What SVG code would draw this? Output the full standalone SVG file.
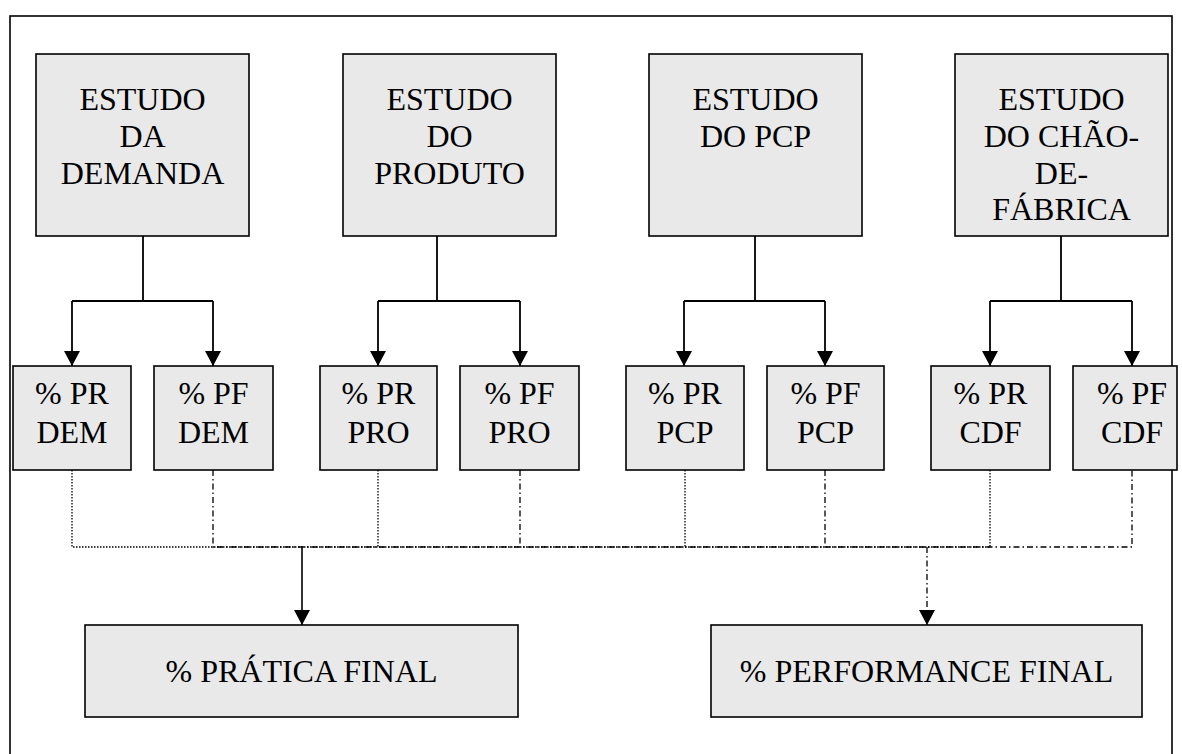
<svg xmlns="http://www.w3.org/2000/svg" width="1182" height="754" viewBox="0 0 1182 754">
  <style>
    .box { fill: #e9e9e9; stroke: #000; stroke-width: 1.6; }
    .lbl { font-family: 'Liberation Serif', 'Times New Roman', 'DejaVu Serif', serif; font-size: 32px; fill: #000; text-anchor: middle; }
    .tree { fill: none; stroke: #000; stroke-width: 1.8; }
    .dot { fill: none; stroke: #000; stroke-width: 1.3; stroke-dasharray: 1.5 1.5; }
    .dashdot { fill: none; stroke: #000; stroke-width: 1.3; stroke-dasharray: 6 3 1.5 3; }
    .solid { fill: none; stroke: #000; stroke-width: 1.6; }
  </style>
  <defs>
    <marker id="arrow" markerUnits="userSpaceOnUse" markerWidth="16" markerHeight="17" refX="15" refY="8" orient="auto">
      <path d="M0,0 L15,8 L0,16 Z" fill="#000"/>
    </marker>
  </defs>

  <rect x="0" y="0" width="1182" height="754" fill="#fff"/>
  <!-- outer frame -->
  <rect x="10" y="16" width="1162" height="760" fill="none" stroke="#000" stroke-width="1.6"/>

  <!-- connectors -->
  <g id="connectors">
    <!-- study boxes to indicator boxes -->
    <path class="tree" d="M143,236 V301 M72,301 H213" />
    <path class="tree" d="M72,301 V366" marker-end="url(#arrow)"/>
    <path class="tree" d="M213,301 V366" marker-end="url(#arrow)"/>
    <path class="tree" d="M437,236 V301 M378,301 H520" />
    <path class="tree" d="M378,301 V366" marker-end="url(#arrow)"/>
    <path class="tree" d="M520,301 V366" marker-end="url(#arrow)"/>
    <path class="tree" d="M755,236 V301 M684,301 H825" />
    <path class="tree" d="M684,301 V366" marker-end="url(#arrow)"/>
    <path class="tree" d="M825,301 V366" marker-end="url(#arrow)"/>
    <path class="tree" d="M1061,236 V301 M990,301 H1132" />
    <path class="tree" d="M990,301 V366" marker-end="url(#arrow)"/>
    <path class="tree" d="M1132,301 V366" marker-end="url(#arrow)"/>

    <!-- practice (PR) collector: dotted -->
    <path class="dot" d="M72,470 V547 H990 M378,470 V547 M685,470 V547 M990,470 V547"/>
    <!-- performance (PF) collector: dash-dot -->
    <path class="dashdot" d="M213,470 V547 H1132 V470 M520,470 V547 M825,470 V547"/>

    <!-- to final boxes -->
    <path class="solid" d="M302,547 V625" marker-end="url(#arrow)"/>
    <path class="dashdot" d="M927,547 V625" marker-end="url(#arrow)"/>
  </g>

  <!-- study boxes -->
  <g id="estudo-demanda">
    <rect class="box" x="36" y="54" width="213" height="182"/>
    <text class="lbl" x="142.5" y="110">ESTUDO</text>
    <text class="lbl" x="142.5" y="147">DA</text>
    <text class="lbl" x="142.5" y="184">DEMANDA</text>
  </g>
  <g id="estudo-produto">
    <rect class="box" x="343" y="54" width="213" height="182"/>
    <text class="lbl" x="449.5" y="110">ESTUDO</text>
    <text class="lbl" x="449.5" y="147">DO</text>
    <text class="lbl" x="449.5" y="184">PRODUTO</text>
  </g>
  <g id="estudo-pcp">
    <rect class="box" x="649" y="54" width="213" height="182"/>
    <text class="lbl" x="755.5" y="110">ESTUDO</text>
    <text class="lbl" x="755.5" y="147">DO PCP</text>
  </g>
  <g id="estudo-cdf">
    <rect class="box" x="955" y="54" width="213" height="182"/>
    <text class="lbl" x="1061.5" y="110">ESTUDO</text>
    <text class="lbl" x="1061.5" y="147">DO CHÃO-</text>
    <text class="lbl" x="1061.5" y="184">DE-</text>
    <text class="lbl" x="1061.5" y="220">FÁBRICA</text>
  </g>

  <!-- indicator boxes -->
  <g id="pr-dem">
    <rect class="box" x="13" y="366" width="118" height="104"/>
    <text class="lbl" x="72" y="404">% PR</text>
    <text class="lbl" x="72" y="443">DEM</text>
  </g>
  <g id="pf-dem">
    <rect class="box" x="154" y="366" width="119" height="104"/>
    <text class="lbl" x="213.5" y="404">% PF</text>
    <text class="lbl" x="213.5" y="443">DEM</text>
  </g>
  <g id="pr-pro">
    <rect class="box" x="320" y="366" width="117" height="104"/>
    <text class="lbl" x="378.5" y="404">% PR</text>
    <text class="lbl" x="378.5" y="443">PRO</text>
  </g>
  <g id="pf-pro">
    <rect class="box" x="460" y="366" width="119" height="104"/>
    <text class="lbl" x="519.5" y="404">% PF</text>
    <text class="lbl" x="519.5" y="443">PRO</text>
  </g>
  <g id="pr-pcp">
    <rect class="box" x="626" y="366" width="118" height="104"/>
    <text class="lbl" x="685" y="404">% PR</text>
    <text class="lbl" x="685" y="443">PCP</text>
  </g>
  <g id="pf-pcp">
    <rect class="box" x="767" y="366" width="117" height="104"/>
    <text class="lbl" x="825.5" y="404">% PF</text>
    <text class="lbl" x="825.5" y="443">PCP</text>
  </g>
  <g id="pr-cdf">
    <rect class="box" x="931" y="366" width="119" height="104"/>
    <text class="lbl" x="990.5" y="404">% PR</text>
    <text class="lbl" x="990.5" y="443">CDF</text>
  </g>
  <g id="pf-cdf">
    <rect class="box" x="1073" y="366" width="104" height="104"/>
    <text class="lbl" x="1132" y="404">% PF</text>
    <text class="lbl" x="1132" y="443">CDF</text>
  </g>

  <!-- final results -->
  <g id="pratica-final">
    <rect class="box" x="85" y="625" width="433" height="92"/>
    <text class="lbl" x="301.5" y="682">% PRÁTICA FINAL</text>
  </g>
  <g id="performance-final">
    <rect class="box" x="711" y="625" width="431" height="92"/>
    <text class="lbl" x="926.5" y="682">% PERFORMANCE FINAL</text>
  </g>
</svg>
